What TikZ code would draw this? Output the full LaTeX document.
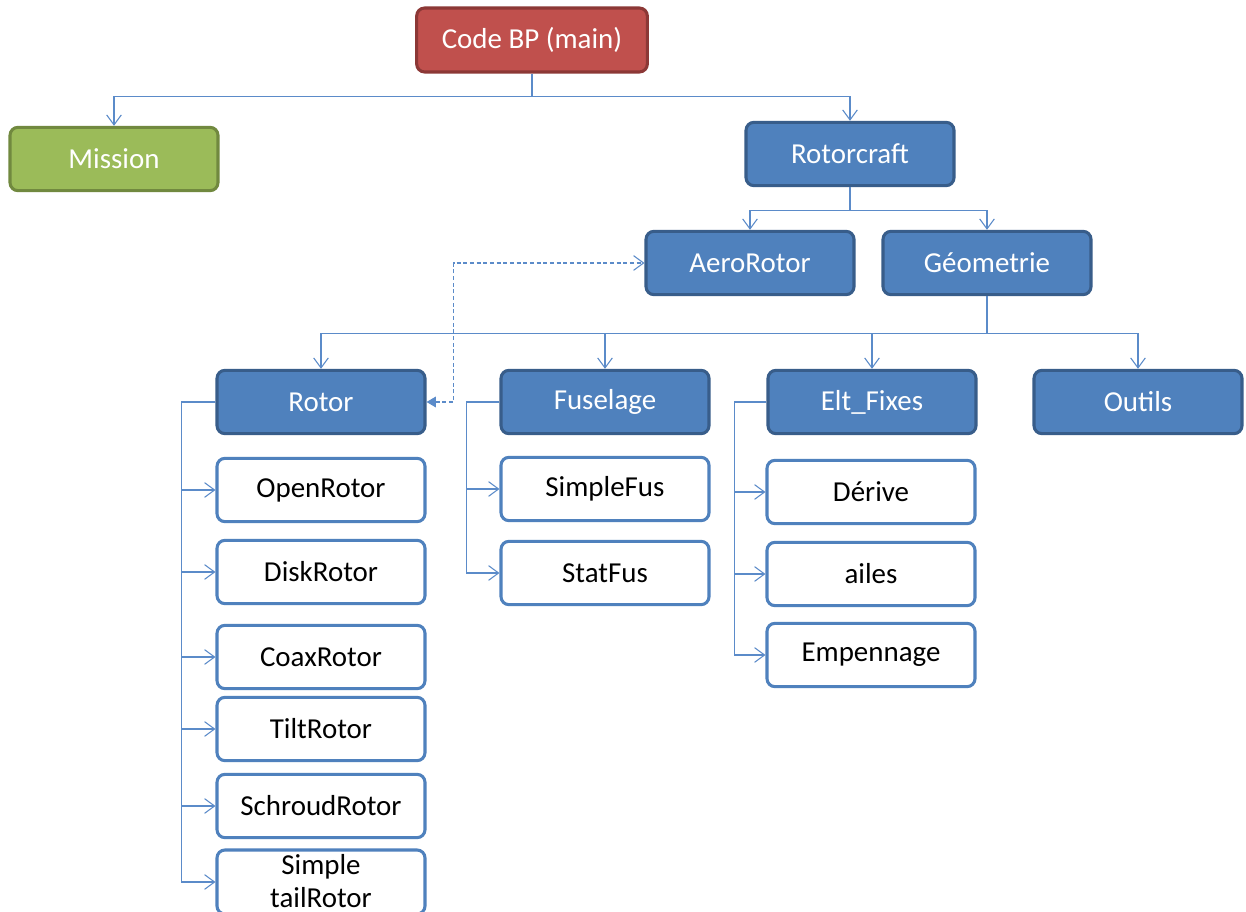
\documentclass[tikz,border=0pt]{standalone}
\usepackage{fontspec}
\setmainfont{Carlito}
\usetikzlibrary{arrows.meta}
\definecolor{redf}{HTML}{C0504D}
\definecolor{redd}{HTML}{8C3836}
\definecolor{greenf}{HTML}{9BBB59}
\definecolor{greend}{HTML}{71893F}
\definecolor{bluef}{HTML}{4F81BD}
\definecolor{blued}{HTML}{385D8A}
\definecolor{linec}{HTML}{5B8BC9}
\tikzset{
  box/.style={rounded corners=6pt, line width=2.3pt, minimum width=156pt, minimum height=47.5pt, inner sep=2pt, font=\fontsize{21.7}{25.5}\selectfont, align=center},
  redbox/.style={box, fill=redf, draw=redd, text=white, minimum width=173pt, minimum height=48pt},
  greenbox/.style={box, fill=greenf, draw=greend, text=white},
  bluebox/.style={box, fill=bluef, draw=blued, text=white},
  whitebox/.style={box, fill=white, draw=bluef, text=black},
  conn/.style={draw=linec, line width=0.9pt, -{Straight Barb[length=7.5pt, width=11pt, line width=0.8pt]}},
  dconn/.style={draw=linec, line width=0.9pt, dash pattern=on 3pt off 2pt, {Triangle[length=7pt, width=8pt]}-{Straight Barb[length=7.5pt, width=11pt, line width=0.8pt]}}
}
\begin{document}
\begin{tikzpicture}[x=0.75pt, y=-0.75pt]
\useasboundingbox (0,0) rectangle (1246,912);
\clip (0,0) rectangle (1246,912);
\fill[white] (0,0) rectangle (1246,912);

\node[redbox] (code) at (532,40) {Code BP (main)};
\node[greenbox] (mission) at (114,159) {Mission};
\node[bluebox] (rotorcraft) at (850,154) {Rotorcraft};
\node[bluebox] (aero) at (750,263) {AeroRotor};
\node[bluebox] (geo) at (987,263) {Géometrie};
\node[bluebox] (rotor) at (321,402) {Rotor};
\node[bluebox] (fuselage) at (605,402) {Fuselage};
\node[bluebox] (elt) at (872,402) {Elt\_Fixes};
\node[bluebox] (outils) at (1138,402) {Outils};

\node[whitebox] (openrotor) at (321,490) {OpenRotor};
\node[whitebox] (diskrotor) at (321,572) {DiskRotor};
\node[whitebox] (coax) at (321,657) {CoaxRotor};
\node[whitebox] (tilt) at (321,729) {TiltRotor};
\node[whitebox] (schroud) at (321,806) {SchroudRotor};
\node[whitebox, minimum height=48pt] (simpletail) at (321,882) {\raisebox{2pt}{Simple}\\[-1pt]\raisebox{2pt}{tailRotor}};

\node[whitebox] (simplefus) at (605,489) {SimpleFus};
\node[whitebox] (statfus) at (605,573) {StatFus};

\node[whitebox] (derive) at (871,492) {Dérive};
\node[whitebox] (ailes) at (871,574) {ailes};
\node[whitebox] (empennage) at (871,655) {Empennage};

% top-level connectors
\draw[conn] (code.south) -- ++(0,23) -| (mission.north);
\draw[conn] (code.south) -- ++(0,23) -| (rotorcraft.north);
\draw[conn] (rotorcraft.south) -- ++(0,23) -| (aero.north);
\draw[conn] (rotorcraft.south) -- ++(0,23) -| (geo.north);
\draw[conn] (geo.south) -- ++(0,37) -| (rotor.north);
\draw[conn] (geo.south) -- ++(0,37) -| (fuselage.north);
\draw[conn] (geo.south) -- ++(0,37) -| (elt.north);
\draw[conn] (geo.south) -- ++(0,37) -| (outils.north);

% dashed link
\draw[dconn] (rotor.east) -- ++(27,0) |- (aero.west);

% Rotor children
\foreach \c in {openrotor,diskrotor,coax,tilt,schroud,simpletail}
  \draw[conn] (rotor.west) -- ++(-34,0) |- (\c.west);
% Fuselage children
\foreach \c in {simplefus,statfus}
  \draw[conn] (fuselage.west) -- ++(-33,0) |- (\c.west);
% Elt_Fixes children
\foreach \c in {derive,ailes,empennage}
  \draw[conn] (elt.west) -- ++(-32,0) |- (\c.west);
\end{tikzpicture}
\end{document}
